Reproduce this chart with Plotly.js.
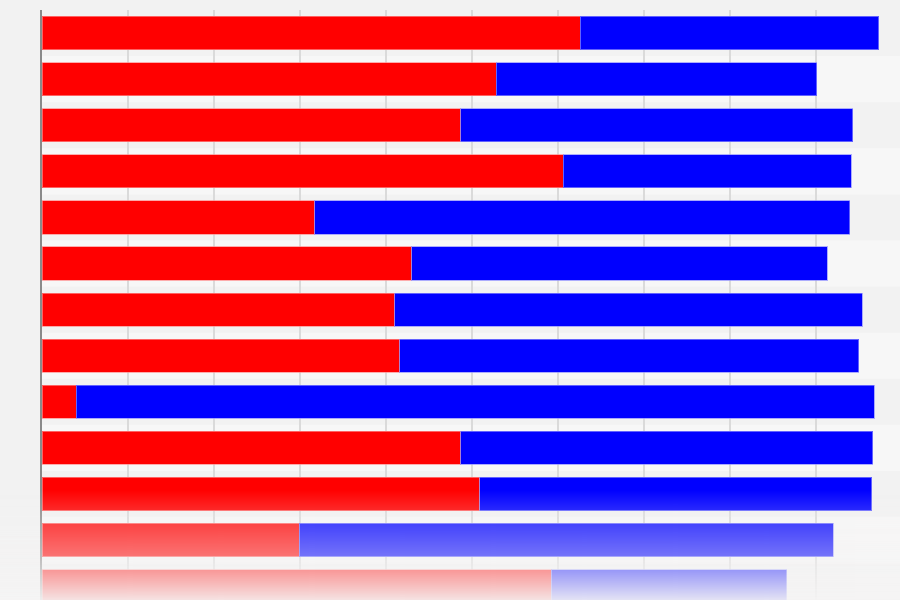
<!DOCTYPE html>
<html>
<head>
<meta charset="utf-8">
<script src="https://cdn.plot.ly/plotly-3.0.1.min.js"></script>
<style>html,body{margin:0;padding:0;background:#f2f2f2;}#chart{width:900px;height:600px;}</style>
</head>
<body>
<div id="chart"></div>
<script>
// Data (units: one gridline step = 10)
const categories = ["A","B","C","D","E","F","G","H","I","J","K","L","M"];
const redValues  = [62.6, 52.8, 48.7, 60.6, 31.7, 43.0, 41.0, 41.6, 4.0, 48.7, 50.9, 29.9, 59.2];
const blueValues = [34.7, 37.3, 45.6, 33.5, 62.2, 48.3, 54.4, 53.4, 92.8, 47.9, 45.6, 62.1, 27.4];

// Bottom fade overlay (styling only)
function fadeImage() {
  const c = document.createElement('canvas');
  c.width = 10; c.height = 600;
  const g = c.getContext('2d');
  const grad = g.createLinearGradient(0, 0, 0, 600);
  const stops = [[0, 0], [490, 0], [523, 0.27], [556, 0.47], [570, 0.62], [600, 0.93]];
  stops.forEach(s => grad.addColorStop(s[0] / 600, 'rgba(245,244,244,' + s[1] + ')'));
  g.fillStyle = grad;
  g.fillRect(0, 0, 10, 600);
  return c.toDataURL('image/png');
}

const stripes = categories.map((c, i) => i).filter(i => i % 2 === 1).map(i => ({
  type: 'rect', xref: 'paper', yref: 'y', x0: 0, x1: 1, y0: i - 0.5, y1: i + 0.5,
  fillcolor: '#f7f7f7', line: {width: 0}, layer: 'below'
}));

const traces = [
  {type: 'bar', orientation: 'h', y: categories, x: redValues, name: 'Red',
   marker: {color: '#ff0000', line: {color: 'rgba(255,140,140,0.7)', width: 1}}, hoverinfo: 'x'},
  {type: 'bar', orientation: 'h', y: categories, x: blueValues, name: 'Blue',
   marker: {color: '#0000ff', line: {color: 'rgba(140,140,255,0.7)', width: 1}}, hoverinfo: 'x'}
];

const layout = {
  width: 900, height: 600,
  margin: {l: 42, r: 0, t: 10, b: 0, pad: 0},
  paper_bgcolor: '#f2f2f2', plot_bgcolor: '#f2f2f2',
  barmode: 'stack', bargap: 0.28,
  showlegend: false,
  xaxis: {range: [0, 99.77], dtick: 10, showgrid: true, gridcolor: '#dadada', gridwidth: 1.5,
          zeroline: false, showticklabels: false, ticks: '', showline: false, fixedrange: true},
  yaxis: {type: 'category', range: [12.3, -0.5], showticklabels: false, ticks: '', showgrid: false,
          showline: true, linecolor: '#8a8a8a', linewidth: 2, zeroline: false, fixedrange: true},
  shapes: stripes,
  images: [{source: fadeImage(), xref: 'paper', yref: 'paper', x: -0.06, y: 1 + 10/590,
            sizex: 1.06, sizey: 600/590, sizing: 'stretch', xanchor: 'left', yanchor: 'top', layer: 'above'}]
};

Plotly.newPlot('chart', traces, layout, {displayModeBar: false, staticPlot: true});
</script>
</body>
</html>
